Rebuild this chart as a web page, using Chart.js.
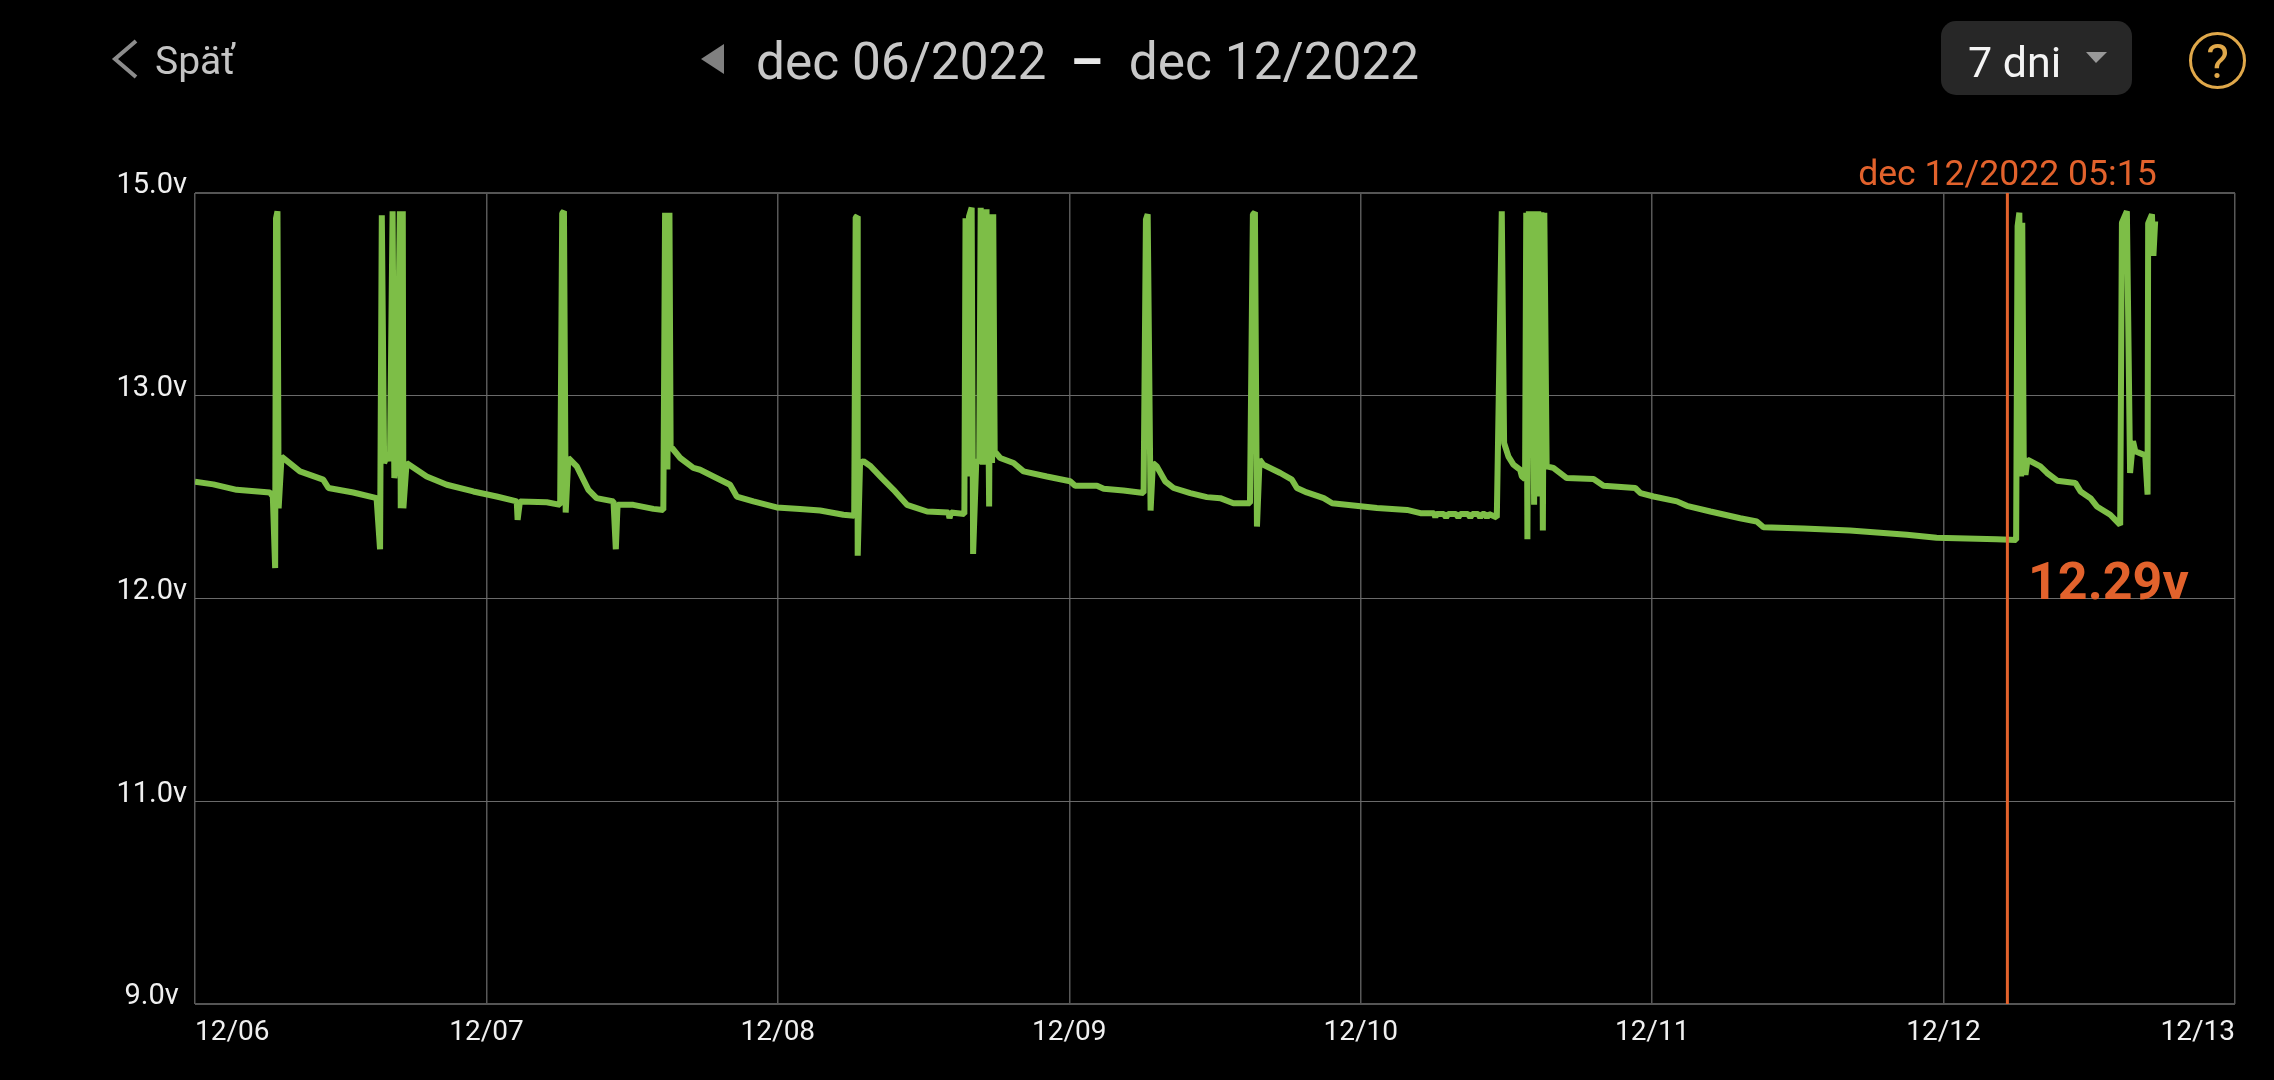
<!DOCTYPE html>
<html lang="sk">
<head>
    <meta charset="utf-8">
    <title>Napätie batérie</title>
    <script src="https://cdn.jsdelivr.net/npm/chart.js"></script>
    <style>
        html, body { margin: 0; background: #000; width: 2274px; height: 1080px; overflow: hidden; font-family: Roboto, sans-serif; }
        #wrap { position: absolute; left: 0; top: 0; width: 2274px; height: 1080px; }
        .head { position: absolute; white-space: nowrap; line-height: 1; }
        #back { left: 155px; top: 42px; font-size: 39px; color: #c4c4c4; }
        #range { left: 756px; top: 36px; font-size: 51.4px; color: #c8c8c8; }
        #range b { color: #e8e8e8; margin: 0 26px 0 24px; }
        #btn { position: absolute; left: 1941px; top: 21px; width: 191px; height: 74px; border-radius: 15px; background: #272727; }
        #days { left: 1968px; top: 41px; font-size: 43px; color: #f4f4f4; }
        #help { left: 2189px; top: 32px; width: 51px; height: 51px; border: 3px solid #e0a84a; border-radius: 50%; text-align: center; font-size: 48px; line-height: 53px; color: #e0a84a; }
        svg { position: absolute; left: 0; top: 0; }
        #chart { position: absolute; left: 0; top: 0; }
    </style>
</head>
<body>
<div id="wrap">
    <canvas id="chart" width="2274" height="1080"></canvas>
    <div id="btn"></div>
    <svg width="2274" height="110">
        <polyline points="136,41 115,59 136,77" fill="none" stroke="#8c8c8c" stroke-width="4"/>
        <polygon points="724,44 724,74 701,59" fill="#808080"/>
        <polygon points="2086,52 2107,52 2096,63" fill="#999"/>
    </svg>
    <div class="head" id="back">Späť</div>
    <div class="head" id="range">dec 06/2022<b>–</b>dec 12/2022</div>
    <div class="head" id="days">7 dni</div>
    <div class="head" id="help">?</div>
</div>
<script>
// popisky osi
const dayLabels = ['12/06', '12/07', '12/08', '12/09', '12/10', '12/11', '12/12', '12/13'];
const voltTicks = [15, 13, 12, 11, 9];

// kurzor
const cursorTime = 6.219;
const cursorText = 'dec 12/2022 05:15';
const cursorVolt = '12.29v';

// cas v dnoch od 12/06 00:00
const times = [
    0, .063, .143, .257, .267, .275, .278, .283, .287, .297, .360, .440, .458, .543, .623,
    .635, .641, .649, .663, .669, .678, .684, .692, .703, .706, .713, .715, .726,
    .795, .864, .955, 1.035, 1.104, 1.107, 1.115, 1.207, 1.253,
    1.26, 1.266, 1.272, 1.281, 1.31, 1.35, 1.378, 1.436, 1.444, 1.45, 1.504, 1.573, 1.607,
    1.613, 1.621, 1.628, 1.632, 1.665, 1.71, 1.733, 1.779, 1.836, 1.859, 1.916, 1.996, 2.076, 2.145, 2.225, 2.262,
    2.267, 2.272, 2.274, 2.282, 2.294, 2.316, 2.357, 2.397, 2.443, 2.512, 2.585, 2.589, 2.594, 2.64,
    2.644, 2.651, 2.656, 2.665, 2.67, 2.681, 2.691, 2.696, 2.703, 2.716, 2.725, 2.73, 2.735, 2.739, 2.744,
    2.763, 2.809, 2.843, 2.923, 3.003, 3.02, 3.095, 3.118, 3.186, 3.255,
    3.263, 3.269, 3.279, 3.287, 3.3, 3.329, 3.358, 3.415, 3.472, 3.518, 3.563, 3.62,
    3.63, 3.637, 3.644, 3.653, 3.666, 3.724, 3.764, 3.781, 3.815, 3.873, 3.902, 3.975, 4.056, 4.159, 4.205, 4.252,
    4.256, 4.26, 4.285, 4.293, 4.30, 4.327, 4.335, 4.342, 4.368, 4.376, 4.383, 4.403, 4.41, 4.417, 4.426, 4.433, 4.44, 4.467,
    4.484, 4.492, 4.507, 4.524, 4.547, 4.553, 4.564,
    4.568, 4.572, 4.577, 4.584, 4.588, 4.595, 4.6, 4.605, 4.609, 4.615, 4.62, 4.625, 4.63, 4.638,
    4.661, 4.707, 4.799, 4.833, 4.942, 4.96, 5.005, 5.085, 5.119, 5.2, 5.302,
    5.359, 5.382, 5.519, 5.679, 5.874, 5.976, 6.182, 6.249,
    6.254, 6.26, 6.266, 6.27, 6.275, 6.281, 6.288,
    6.332, 6.355, 6.39, 6.452, 6.47, 6.504, 6.526, 6.572, 6.606,
    6.612, 6.629, 6.64, 6.65, 6.658, 6.692, 6.70, 6.702, 6.715, 6.72, 6.726
];
const volts = [
    12.576, 12.563, 12.536, 12.523, 12.503, 12.15, 14.75, 14.82, 12.445, 12.70, 12.627, 12.586, 12.545, 12.523, 12.495,
    12.243, 14.78, 12.668, 12.718, 12.677, 14.82, 12.594, 12.70, 14.82, 12.445, 14.82, 12.445, 12.668,
    12.602, 12.561, 12.528, 12.503, 12.479, 12.388, 12.479, 12.475, 12.462,
    14.80, 14.82, 12.424, 12.693, 12.652, 12.536, 12.495, 12.479, 12.243, 12.462, 12.462, 12.442, 12.437,
    14.806, 12.636, 14.806, 12.751, 12.693, 12.644, 12.635, 12.602, 12.561, 12.503, 12.479, 12.449, 12.441, 12.434, 12.413, 12.408,
    14.76, 14.77, 12.211, 12.668, 12.677, 12.655, 12.594, 12.536, 12.462, 12.429, 12.424, 12.396, 12.424, 12.417,
    14.75, 12.602, 14.77, 14.855, 12.22, 12.685, 12.668, 14.855, 12.66, 14.84, 12.454, 14.79, 12.668, 14.79, 12.726,
    12.693, 12.668, 12.627, 12.602, 12.578, 12.556, 12.556, 12.541, 12.533, 12.52,
    14.74, 14.79, 12.434, 12.668, 12.652, 12.578, 12.545, 12.52, 12.5, 12.495, 12.47, 12.47,
    14.79, 14.81, 12.355, 12.685, 12.66, 12.619, 12.586, 12.545, 12.523, 12.495, 12.47, 12.459, 12.446, 12.437, 12.421, 12.421,
    12.40, 12.417, 12.417, 12.40, 12.417, 12.417, 12.40, 12.417, 12.417, 12.40, 12.417, 12.417, 12.40, 12.417, 12.417, 12.40, 12.417, 12.40,
    14.82, 12.767, 12.70, 12.66, 12.635, 12.602, 12.589,
    14.806, 12.292, 14.82, 12.701, 14.82, 12.462, 14.82, 12.635, 14.82, 12.503, 14.81, 12.335, 14.806, 12.652,
    12.644, 12.594, 12.589, 12.556, 12.545, 12.52, 12.503, 12.479, 12.457, 12.429, 12.396,
    12.38, 12.351, 12.345, 12.335, 12.314, 12.30, 12.292, 12.289,
    14.674, 14.806, 12.602, 14.707, 12.701, 12.61, 12.685,
    12.652, 12.619, 12.581, 12.57, 12.528, 12.495, 12.454, 12.413, 12.363,
    14.707, 14.82, 12.619, 12.776, 12.726, 12.706, 12.512, 14.70, 14.79, 14.38, 14.72
];

const GREEN = '#7dbe47';
const ORANGE = '#e2622c';

// os Y: rovnomerne rozostupy medzi 15, 13, 12, 11 a 9 V
class StepVoltScale extends Chart.LinearScale {
    buildTicks() {
        return voltTicks.map(value => ({ value }));
    }
    getPixelForValue(value) {
        const last = voltTicks.length - 1;
        for (let i = 0; i < last; i++) {
            const hi = voltTicks[i], lo = voltTicks[i + 1];
            if (value <= hi && value >= lo) {
                const up = (last - i - 1 + (value - lo) / (hi - lo)) / last;
                return this.getPixelForDecimal(up);
            }
        }
        return NaN;
    }
}
StepVoltScale.id = 'stepVolt';
StepVoltScale.defaults = Chart.LinearScale.defaults;
Chart.register(StepVoltScale);

// texty pri kurzore
const cursorLabels = {
    id: 'cursorLabels',
    afterDatasetsDraw(chart) {
        const { ctx, scales: { x, y } } = chart;
        const px = x.getPixelForValue(cursorTime);
        ctx.save();
        ctx.fillStyle = ORANGE;
        ctx.textAlign = 'center';
        ctx.textBaseline = 'alphabetic';
        ctx.font = '35.6px Roboto';
        ctx.fillText(cursorText, px, y.getPixelForValue(15) - 8);
        ctx.font = 'bold 52px Roboto';
        ctx.fillText(cursorVolt, px + 101, y.getPixelForValue(12));
        ctx.restore();
    }
};

new Chart(document.getElementById('chart'), {
    type: 'line',
    data: {
        datasets: [{
            data: [{ x: cursorTime, y: 9 }, { x: cursorTime, y: 15 }],
            borderColor: ORANGE,
            borderWidth: 3,
            pointRadius: 0
        }, {
            data: times.map((t, i) => ({ x: t, y: volts[i] })),
            borderColor: GREEN,
            borderWidth: 6,
            borderJoinStyle: 'bevel',
            pointRadius: 0,
            tension: 0
        }]
    },
    options: {
        responsive: false,
        animation: false,
        layout: { padding: { top: 193, right: 39, bottom: 0, left: 0 } },
        plugins: { legend: { display: false }, tooltip: { enabled: false } },
        scales: {
            x: {
                type: 'linear',
                min: 0,
                max: 7,
                afterFit: s => { s.height = 76; },
                afterBuildTicks: s => { s.ticks = dayLabels.map((_, i) => ({ value: i })); },
                border: { display: false },
                grid: { color: '#585858', lineWidth: 1.5, drawTicks: false },
                ticks: {
                    align: 'inner',
                    maxRotation: 0,
                    autoSkip: false,
                    padding: 12,
                    color: '#f0f0f0',
                    font: { family: 'Roboto', size: 28 },
                    callback: v => dayLabels[v]
                }
            },
            y: {
                type: 'stepVolt',
                min: 9,
                max: 15,
                afterFit: s => { s.width = 195; },
                border: { display: false },
                grid: {
                    drawTicks: false,
                    color: ctx => (ctx.index === 0 || ctx.index === voltTicks.length - 1) ? '#555555' : '#6a6a6a',
                    lineWidth: ctx => (ctx.index === 0 || ctx.index === voltTicks.length - 1) ? 2 : 1
                },
                ticks: {
                    crossAlign: 'center',
                    padding: 8,
                    color: '#f0f0f0',
                    font: { family: 'Roboto', size: 29, lineHeight: '14px' },
                    callback: v => [v.toFixed(1) + 'v', '']
                }
            }
        }
    },
    plugins: [cursorLabels]
});
</script>
</body>
</html>
